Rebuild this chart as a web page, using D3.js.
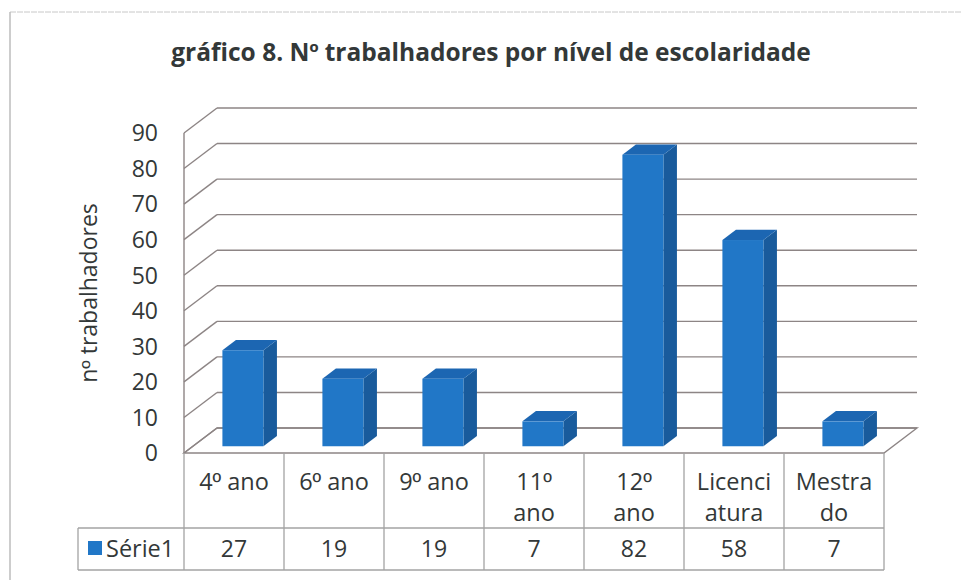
<!DOCTYPE html>
<html>
<head>
<meta charset="utf-8">
<script src="https://cdn.jsdelivr.net/npm/d3@7"></script>
<style>
    body { margin: 0; background: #fff; }
    text { font-family: 'Open Sans', 'Noto Sans', sans-serif; fill: #333838; }
    .ord { font-family: 'Liberation Sans', 'DejaVu Sans', sans-serif; }
</style>
</head>
<body>
<div id="chart-wrapper"></div>
<script>

// gráfico 8 - 3d column chart with data table underneath

var categories = ['4º ano', '6º ano', '9º ano', '11º ano', '12º ano', 'Licenciatura', 'Mestrado'];
// how the category names wrap inside the table cells
var categoryLines = [
    ['4º ano'],
    ['6º ano'],
    ['9º ano'],
    ['11º', 'ano'],
    ['12º', 'ano'],
    ['Licenci', 'atura'],
    ['Mestra', 'do']
];
var values = [27, 19, 19, 7, 82, 58, 7];
var yTicks = [0, 10, 20, 30, 40, 50, 60, 70, 80, 90];
var seriesName = 'Série1';
var title = 'gráfico 8. Nº trabalhadores por nível de escolaridade';
var yLabel = 'nº trabalhadores';

// open sans draws º without the bar underneath, so swap font for that glyph only
function ordinalText(sel, str){
    str.split(/(º)/).forEach(function(part){
        if (!part) return;
        var t = sel.append('tspan').text(part);
        if (part === 'º') t.attr('class', 'ord');
    });
}

var chart = {
    width: 961,
    height: 580,
    left: 184,
    right: 884,
    top: 133,
    bottom: 453,
    depthX: 33,
    depthY: -25,
    barFront: 0.27,
    barBack: 0.68,
    barWidth: 0.41,
    gridColor: '#8d8585',
    tableColor: '#a3a3a3',
    blue: { front: '#2177c7', top: '#1c66b2', side: '#195b9c' },

    init: function(){
        this.svg = d3.select('#chart-wrapper').append('svg')
            .attr('width', this.width)
            .attr('height', this.height);

        this.x = d3.scaleBand()
            .domain(categories)
            .range([this.left, this.right]);

        this.y = d3.scaleLinear()
            .domain([0, 90])
            .range([this.bottom, this.top]);
    },

    drawFrame: function(){
        this.svg.append('line')
            .attr('x1', 10).attr('x2', this.width)
            .attr('y1', 12).attr('y2', 12)
            .attr('stroke', '#c8c8c8')
            .attr('stroke-dasharray', '6,1');
        this.svg.append('line')
            .attr('x1', 10).attr('x2', 10)
            .attr('y1', 12).attr('y2', this.height)
            .attr('stroke', '#bdbdbd')
            .attr('stroke-width', 1.5);

        var t = this.svg.append('text')
            .attr('x', 491)
            .attr('y', 61)
            .attr('text-anchor', 'middle')
            .style('font-size', '24.5px')
            .style('font-weight', 'bold');
        ordinalText(t, title);

        var yl = this.svg.append('text')
            .attr('transform', 'translate(97,' + 293 + ') rotate(-90)')
            .attr('text-anchor', 'middle')
            .style('font-size', '23px');
        ordinalText(yl, yLabel);
    },

    drawWalls: function(){
        var x0 = this.left, x1 = this.right, dx = this.depthX, dy = this.depthY, y = this.y;
        var g = this.svg.append('g').attr('class', 'walls');

        // floor
        g.append('path')
            .attr('d', 'M' + x0 + ',' + y(0) + 'L' + x1 + ',' + y(0) +
                'L' + (x1 + dx) + ',' + (y(0) + dy) + 'L' + (x0 + dx) + ',' + (y(0) + dy) + 'Z')
            .attr('fill', '#fff')
            .attr('stroke', this.gridColor)
            .attr('stroke-width', 1.4);

        // side wall diagonals
        g.selectAll('line.diag')
            .data(yTicks)
            .enter()
            .append('line')
            .attr('class', 'diag')
            .attr('x1', x0)
            .attr('x2', x0 + dx)
            .attr('y1', function(d){ return y(d); })
            .attr('y2', function(d){ return y(d) + dy; })
            .attr('stroke', this.gridColor)
            .attr('stroke-width', 1.4);

        // back wall gridlines
        g.selectAll('line.grid')
            .data(yTicks)
            .enter()
            .append('line')
            .attr('class', 'grid')
            .attr('x1', x0 + dx)
            .attr('x2', x1 + dx)
            .attr('y1', function(d){ return y(d) + dy; })
            .attr('y2', function(d){ return y(d) + dy; })
            .attr('stroke', this.gridColor)
            .attr('stroke-width', 1.4);

        // front vertical edge of the side wall
        g.append('line')
            .attr('x1', x0).attr('x2', x0)
            .attr('y1', y(90)).attr('y2', y(0))
            .attr('stroke', this.gridColor)
            .attr('stroke-width', 1.4);

        g.selectAll('text.tick')
            .data(yTicks)
            .enter()
            .append('text')
            .attr('class', 'tick')
            .attr('x', 158)
            .attr('y', function(d){ return y(d); })
            .attr('dy', '0.36em')
            .attr('text-anchor', 'end')
            .style('font-size', '23px')
            .text(function(d){ return d; });
    },

    drawBars: function(){
        var x = this.x, y = this.y;
        var bw = x.bandwidth() * this.barWidth;
        var fx = this.depthX * this.barFront, fy = this.depthY * this.barFront;
        var ddx = this.depthX * (this.barBack - this.barFront);
        var ddy = this.depthY * (this.barBack - this.barFront);

        function left(i){ return x(categories[i]) + (x.bandwidth() - bw) / 2 + fx; }
        function top(d){ return y(d) + fy; }
        var base = y(0) + fy;

        var bars = this.svg.append('g').attr('class', 'bars')
            .selectAll('g.bar')
            .data(values)
            .enter()
            .append('g')
            .attr('class', 'bar');

        bars.append('path')
            .attr('fill', this.blue.side)
            .attr('d', function(d, i){
                var r = left(i) + bw;
                return 'M' + r + ',' + top(d) + 'L' + (r + ddx) + ',' + (top(d) + ddy) +
                    'L' + (r + ddx) + ',' + (base + ddy) + 'L' + r + ',' + base + 'Z';
            });

        bars.append('path')
            .attr('fill', this.blue.top)
            .attr('d', function(d, i){
                var l = left(i), r = l + bw;
                return 'M' + l + ',' + top(d) + 'L' + r + ',' + top(d) +
                    'L' + (r + ddx) + ',' + (top(d) + ddy) + 'L' + (l + ddx) + ',' + (top(d) + ddy) + 'Z';
            });

        bars.append('rect')
            .attr('fill', this.blue.front)
            .attr('x', function(d, i){ return left(i); })
            .attr('y', function(d){ return top(d); })
            .attr('width', bw)
            .attr('height', function(d){ return base - top(d); });
    },

    drawTable: function(){
        var x = this.x, col = this.tableColor;
        var rowTop = this.bottom, rowMid = 528, rowEnd = 570, legendLeft = 78;
        var g = this.svg.append('g').attr('class', 'table');

        // column dividers
        g.selectAll('line.col')
            .data(categories.concat(['end']))
            .enter()
            .append('line')
            .attr('class', 'col')
            .attr('x1', function(d){ return d === 'end' ? x.range()[1] : x(d); })
            .attr('x2', function(d){ return d === 'end' ? x.range()[1] : x(d); })
            .attr('y1', rowTop)
            .attr('y2', rowEnd)
            .attr('stroke', col)
            .attr('stroke-width', 1.3);

        g.append('line')
            .attr('x1', legendLeft).attr('x2', this.right)
            .attr('y1', rowMid).attr('y2', rowMid)
            .attr('stroke', col).attr('stroke-width', 1.3);
        g.append('line')
            .attr('x1', legendLeft).attr('x2', this.right)
            .attr('y1', rowEnd).attr('y2', rowEnd)
            .attr('stroke', col).attr('stroke-width', 1.3);
        g.append('line')
            .attr('x1', legendLeft).attr('x2', legendLeft)
            .attr('y1', rowMid).attr('y2', rowEnd)
            .attr('stroke', col).attr('stroke-width', 1.3);

        var labels = g.selectAll('text.cat')
            .data(categoryLines)
            .enter()
            .append('text')
            .attr('class', 'cat')
            .attr('text-anchor', 'middle')
            .style('font-size', '23.5px');

        labels.selectAll('tspan.line')
            .data(function(d, i){
                return d.map(function(t, j){ return { text: t, i: i, j: j }; });
            })
            .enter()
            .append('tspan')
            .attr('class', 'line')
            .attr('x', function(d){ return x(categories[d.i]) + x.bandwidth() / 2; })
            .attr('y', function(d){ return 490 + d.j * 31; })
            .each(function(d){ ordinalText(d3.select(this), d.text); });

        g.selectAll('text.val')
            .data(values)
            .enter()
            .append('text')
            .attr('class', 'val')
            .attr('x', function(d, i){ return x(categories[i]) + x.bandwidth() / 2; })
            .attr('y', 557)
            .attr('text-anchor', 'middle')
            .style('font-size', '23px')
            .text(function(d){ return d; });

        g.append('rect')
            .attr('x', 88).attr('y', 541)
            .attr('width', 14).attr('height', 14)
            .attr('fill', this.blue.front);
        g.append('text')
            .attr('x', 106)
            .attr('y', 557)
            .style('font-size', '23.5px')
            .text(seriesName);
    }
};

chart.init();
chart.drawFrame();
chart.drawWalls();
chart.drawBars();
chart.drawTable();

</script>
</body>
</html>
